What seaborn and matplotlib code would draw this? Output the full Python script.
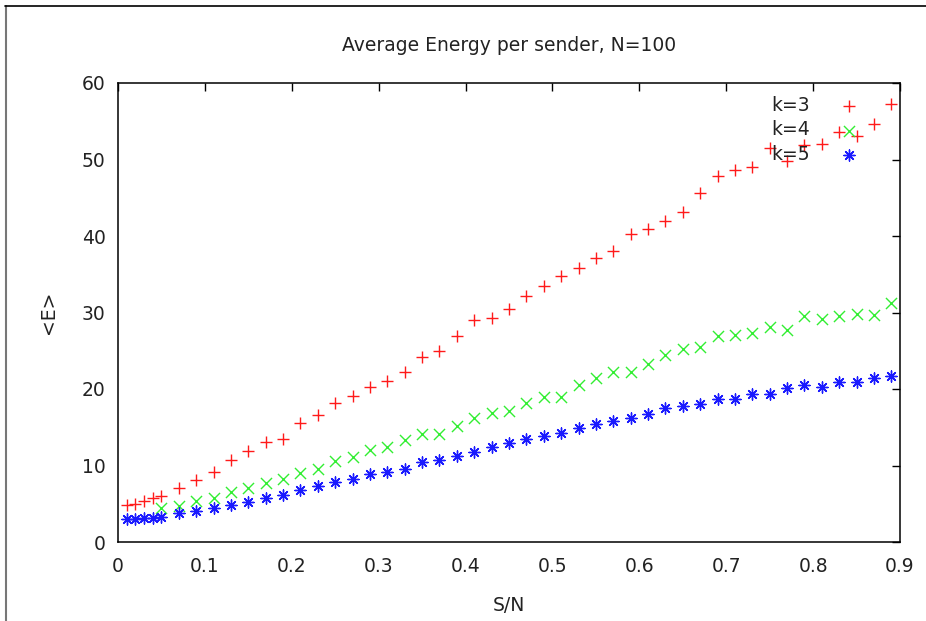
import matplotlib
matplotlib.use("Agg")
import matplotlib.pyplot as plt
from matplotlib.lines import Line2D
import seaborn as sns
import pandas as pd

# S/N ratios sampled in the simulation
sn_dense = [0.01, 0.02, 0.03, 0.04, 0.05]
sn_sparse = [0.07, 0.09, 0.11, 0.13, 0.15, 0.17, 0.19, 0.21, 0.23, 0.25,
             0.27, 0.29, 0.31, 0.33, 0.35, 0.37, 0.39, 0.41, 0.43, 0.45,
             0.47, 0.49, 0.51, 0.53, 0.55, 0.57, 0.59, 0.61, 0.63, 0.65,
             0.67, 0.69, 0.71, 0.73, 0.75, 0.77, 0.79, 0.81, 0.83, 0.85,
             0.87, 0.89]
sn_k3 = sn_dense + sn_sparse
sn_k4 = [0.05] + sn_sparse
sn_k5 = sn_dense + sn_sparse

# average energy per sender
energy_k3 = [4.8, 5.0, 5.4, 5.8, 6.0,
             7.1, 8.1, 9.2, 10.7, 11.9, 13.1, 13.5, 15.6, 16.6, 18.2,
             19.1, 20.2, 21.05, 22.2, 24.2, 25.0, 26.9, 29.0, 29.3, 30.5,
             32.2, 33.5, 34.8, 35.8, 37.1, 38.1, 40.3, 40.9, 42.0, 43.1,
             45.6, 47.8, 48.6, 49.0, 51.5, 49.8, 51.9, 52.0, 53.6, 53.1,
             54.6, 57.3]
energy_k4 = [4.4,
             4.7, 5.3, 5.8, 6.5, 7.1, 7.7, 8.2, 9.05, 9.6, 10.6,
             11.1, 12.0, 12.4, 13.3, 14.1, 14.1, 15.2, 16.2, 16.9, 17.1,
             18.2, 18.95, 18.95, 20.5, 21.4, 22.2, 22.2, 23.3, 24.4, 25.2,
             25.5, 26.9, 27.06, 27.3, 28.1, 27.7, 29.5, 29.2, 29.5, 29.8,
             29.7, 31.3]
energy_k5 = [2.97, 2.97, 3.2, 3.2, 3.3,
             3.75, 4.05, 4.5, 4.9, 5.2, 5.8, 6.2, 6.8, 7.3, 7.8,
             8.2, 8.85, 9.2, 9.5, 10.4, 10.7, 11.2, 11.8, 12.4, 12.95,
             13.5, 13.9, 14.3, 14.9, 15.4, 15.8, 16.2, 16.7, 17.55, 17.8,
             18.1, 18.65, 18.7, 19.4, 19.4, 20.1, 20.5, 20.3, 20.95, 20.95,
             21.4, 21.7]

labels = ["k=3", "k=4", "k=5"]
xticks = [0, 0.1, 0.2, 0.3, 0.4, 0.5, 0.6, 0.7, 0.8, 0.9]
yticks = [0, 10, 20, 30, 40, 50, 60]

sns.set_style("white")
plt.rcParams["font.family"] = ["DejaVu Sans"]
plt.rcParams["font.size"] = 13.5

W, H = 926, 621
fig = plt.figure(figsize=(W / 100, H / 100), dpi=100)
ax = fig.add_axes([118 / W, 1 - 542 / H, (900 - 118) / W, (542 - 83) / H])

series = [
    (sn_k3, energy_k3, labels[0], "#ff1a1a", "+"),
    (sn_k4, energy_k4, labels[1], "#33ee33", "x"),
    (sn_k5, energy_k5, labels[2], "#1a1aff", (8, 2, 0)),
]
for xs, ys, lab, col, mk in series:
    df = pd.DataFrame({"S/N": xs, "E": ys})
    sns.scatterplot(data=df, x="S/N", y="E", ax=ax, marker=mk, color=col,
                    s=64, linewidth=1.0, label=lab, zorder=3)

ax.set_xlim(0, 0.9)
ax.set_ylim(0, 60)
ax.set_xticks(xticks)
ax.set_xticklabels([f"{t:g}" for t in xticks])
ax.set_yticks(yticks)
ax.tick_params(direction="in", length=6, width=1.0, top=True, right=True,
               colors="black", labelcolor="#222222", labelsize=13.5)
ax.tick_params(axis="x", pad=11)
ax.tick_params(axis="y", pad=9)
for sp in ax.spines.values():
    sp.set_linewidth(1.1)
    sp.set_color("black")

ax.set_xlabel("S/N", color="#222222", fontsize=13.5)
ax.set_ylabel("<E>", color="#222222", fontsize=13.5)
ax.xaxis.set_label_coords(0.5, (542 - 596) / 459)
ax.yaxis.set_label_coords((58 - 118) / 782, 0.5)
ax.set_title("Average Energy per sender, N=100", color="#222222",
             fontsize=13.5, y=1 + (83 - 54) / 459, va="center")

leg = ax.legend(loc="upper right", frameon=False, markerfirst=False,
                bbox_to_anchor=(858 / W, 1 - 96 / H),
                bbox_transform=fig.transFigure, borderpad=0,
                borderaxespad=0, handlelength=1.0, handletextpad=1.58,
                labelspacing=0.29, fontsize=13.5, scatterpoints=1)
for t in leg.get_texts():
    t.set_color("#222222")

# outer frame lines along the left and top edges
fig.add_artist(Line2D([5.5 / W, 5.5 / W], [0, 1 - 6 / H],
                      transform=fig.transFigure, color="#777777", lw=1.5))
fig.add_artist(Line2D([5 / W, 1], [1 - 6 / H, 1 - 6 / H],
                      transform=fig.transFigure, color="black", lw=1.2))

fig.savefig("out.png", dpi=100, facecolor="white")
